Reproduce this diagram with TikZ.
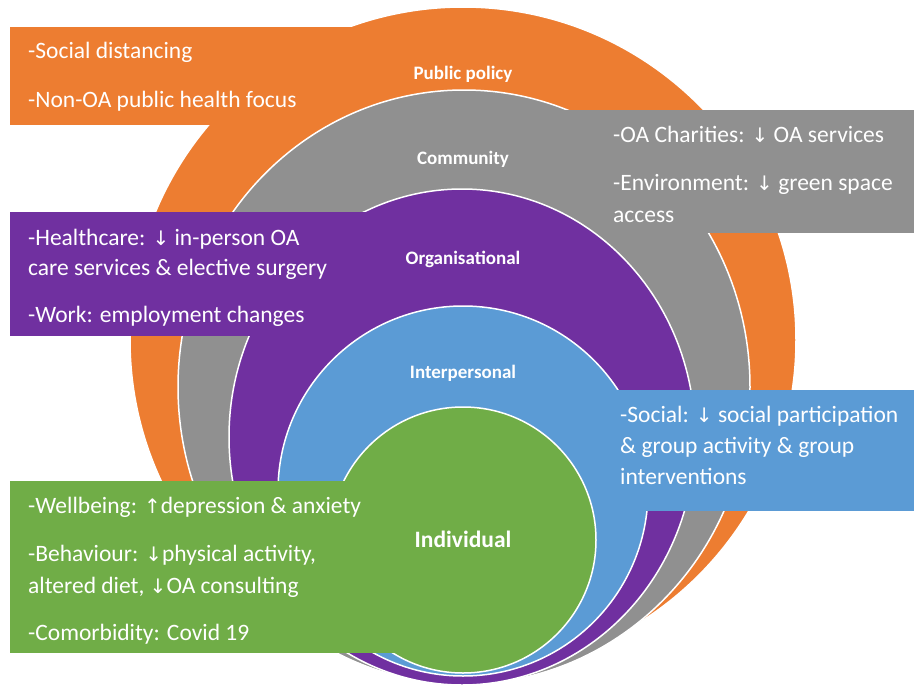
\documentclass[tikz,border=0pt]{standalone}
\usepackage{fontspec}
\setmainfont{Carlito}
\newfontfamily\arrowfont{DejaVu Sans}
\definecolor{cOrange}{HTML}{ED7D31}
\definecolor{cGray}{HTML}{909090}
\definecolor{cPurple}{HTML}{7030A0}
\definecolor{cBlue}{HTML}{5B9BD5}
\definecolor{cGreen}{HTML}{70AD47}
\newcommand\arrdown{{\arrowfont\fontsize{20}{22}\selectfont ↓}}
\newcommand\arrup{{\arrowfont\fontsize{20}{22}\selectfont ↑}}
\tikzset{
  ring/.style={draw=white, line width=1.5pt},
  boxtext/.style={anchor=base west, inner sep=0pt, text=white, font=\fontsize{23.5}{28}\selectfont},
  ringlabel/.style={anchor=base, inner sep=0pt, text=white, font=\bfseries\fontsize{19}{22}\selectfont},
}
\begin{document}
\begin{tikzpicture}[x=1pt,y=-1pt]
\useasboundingbox (0,0) rectangle (914,686);
% orange level
\fill[cOrange, ring] (463,340) circle [radius=333pt];
\fill[cOrange] (10,27) rectangle (420,125);
% gray level
\fill[cGray, ring] (464,387) ellipse [x radius=286pt, y radius=297pt];
\fill[cGray] (520,110) rectangle (914,233);
% purple level
\fill[cPurple, ring] (462,437) ellipse [x radius=233pt, y radius=248pt];
\fill[cPurple] (10,212) rectangle (420,336);
% blue level
\fill[cBlue, ring] (463,491) circle [radius=185pt];
\fill[cBlue] (560,390) rectangle (914,511);
% green level
\fill[cGreen, ring] (463,540) circle [radius=133pt];
\fill[cGreen] (10,481) rectangle (463,653);

% ring labels
\node[ringlabel] (lpub) at (463,79) {Public policy};
\node[ringlabel] (lcom) at (463,164) {Community};
\node[ringlabel] (lorg) at (463,264) {Organisational};
\node[ringlabel] (lint) at (463,378) {Interpersonal};
\node[ringlabel, font=\bfseries\fontsize{23.5}{26}\selectfont] (lind) at (463,547) {Individual};

% orange box text
\node[boxtext] (o1) at (28,58) {-Social distancing};
\node[boxtext] (o2) at (28,107) {-Non-OA public health focus};
% gray box text
\node[boxtext] (g1) at (613,142) {-OA Charities: \arrdown{} OA services};
\node[boxtext] (g2) at (613,190) {-Environment: \arrdown{} green space};
\node[boxtext] (g3) at (613,222) {access};
% purple box text
\node[boxtext] (p1) at (28,245) {-Healthcare: \arrdown{} in-person OA};
\node[boxtext] (p2) at (28,275) {care services \& elective surgery};
\node[boxtext] (p3) at (28,322) {-Work: employment changes};
% blue box text
\node[boxtext] (b1) at (620,422) {-Social: \arrdown{} social participation};
\node[boxtext] (b2) at (620,453) {\& group activity \& group};
\node[boxtext] (b3) at (620,484) {interventions};
% green box text
\node[boxtext] (e1) at (28,513) {-Wellbeing: \arrup{}depression \& anxiety};
\node[boxtext] (e2) at (28,561) {-Behaviour: \arrdown{}physical activity,};
\node[boxtext] (e3) at (28,593) {altered diet, \arrdown{}OA consulting};
\node[boxtext] (e4) at (28,640) {-Comorbidity: Covid 19};
\end{tikzpicture}
\end{document}
